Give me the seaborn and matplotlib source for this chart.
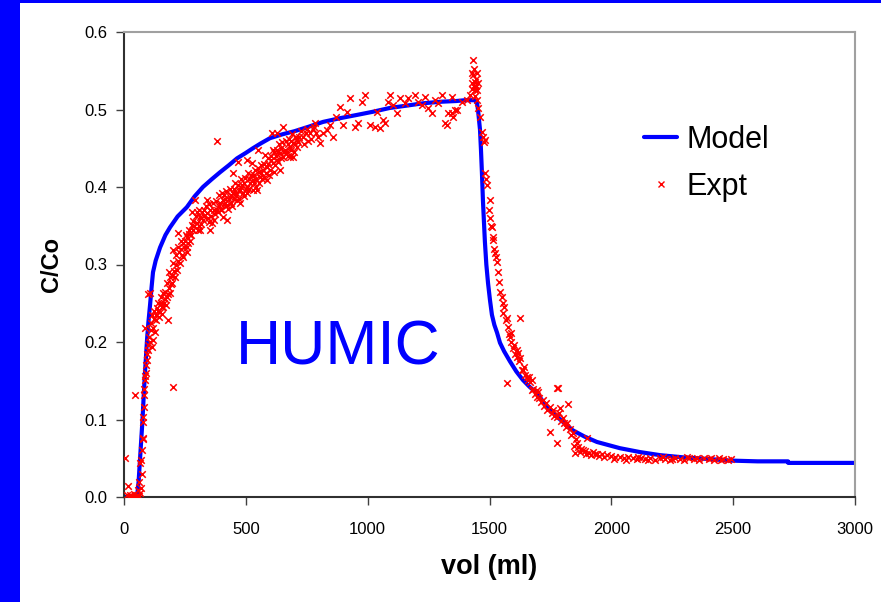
import matplotlib
matplotlib.use('Agg')
import matplotlib.pyplot as plt
from matplotlib.lines import Line2D
from matplotlib.patches import Rectangle
import seaborn as sns
import pandas as pd

# Модельная кривая (объём, мл -> C/Co)
model_vol = [0, 30, 50, 55, 60, 64, 68, 72, 76, 80, 85, 90, 95, 100, 107, 113, 119,
             130, 148, 170, 189, 220, 258, 290, 324, 360, 394, 430, 464, 500, 529,
             560, 599, 650, 700, 760, 817, 890, 956, 1020, 1091, 1160, 1227, 1300,
             1366, 1400, 1440, 1449, 1453, 1461, 1465, 1469, 1473, 1481, 1487, 1494,
             1502, 1510, 1520, 1531, 1543, 1560, 1584, 1610, 1637, 1665, 1695, 1736,
             1790, 1842, 1890, 1941, 2035, 2117, 2200, 2300, 2400, 2487, 2600, 2725,
             2726, 2850, 3000]
model_c = [0.0, 0.0, 0.0, 0.005, 0.02, 0.04, 0.06, 0.08, 0.10, 0.125, 0.155, 0.18,
           0.205, 0.225, 0.248, 0.27, 0.29, 0.305, 0.322, 0.338, 0.348, 0.362, 0.374,
           0.388, 0.40, 0.41, 0.419, 0.428, 0.437, 0.444, 0.45, 0.456, 0.463, 0.468,
           0.472, 0.478, 0.484, 0.489, 0.493, 0.497, 0.502, 0.505, 0.508, 0.510,
           0.511, 0.512, 0.512, 0.508, 0.499, 0.474, 0.448, 0.418, 0.383, 0.33,
           0.30, 0.276, 0.254, 0.235, 0.222, 0.212, 0.199, 0.188, 0.175, 0.162,
           0.151, 0.142, 0.134, 0.116, 0.10, 0.086, 0.078, 0.071, 0.063, 0.058,
           0.054, 0.051, 0.049, 0.047, 0.046, 0.046, 0.044, 0.044, 0.044]

# Экспериментальные точки по участкам
expt_start = [(5, 0.050), (12, 0.003), (16, 0.014), (20, 0.0), (25, 0.003), (30, 0.001),
              (37, 0.0), (42, 0.004), (45, 0.132), (48, 0.0), (53, 0.003), (57, 0.009),
              (60, 0.001), (62, 0.02), (64, 0.005), (66, 0.044), (68, 0.012), (70, 0.048),
              (72, 0.03)]
expt_rise = [(74, 0.061), (76, 0.075), (78, 0.076), (78, 0.103), (80, 0.097), (82, 0.116),
             (82, 0.132), (84, 0.14), (86, 0.151), (88, 0.156), (90, 0.160), (92, 0.17),
             (94, 0.177), (86, 0.218), (96, 0.185), (98, 0.190), (98, 0.262), (100, 0.196),
             (103, 0.207), (105, 0.20), (107, 0.263), (110, 0.215), (115, 0.194),
             (119, 0.218), (119, 0.203), (122, 0.23), (127, 0.213), (130, 0.235),
             (135, 0.244), (140, 0.24), (148, 0.239), (150, 0.25), (155, 0.245),
             (160, 0.245), (160, 0.263), (165, 0.25), (170, 0.255), (176, 0.258),
             (176, 0.276), (181, 0.228), (185, 0.27), (189, 0.263), (189, 0.284),
             (195, 0.285), (197, 0.276), (201, 0.142), (201, 0.302), (201, 0.319),
             (209, 0.284), (212, 0.30), (217, 0.293), (222, 0.323), (222, 0.341),
             (230, 0.302), (235, 0.32), (242, 0.310), (242, 0.328), (250, 0.33),
             (258, 0.316), (258, 0.323), (258, 0.335), (265, 0.34), (272, 0.33),
             (279, 0.351), (279, 0.368), (285, 0.345), (291, 0.383), (300, 0.354),
             (300, 0.368), (306, 0.35), (312, 0.361), (312, 0.345), (318, 0.36),
             (324, 0.357), (330, 0.37), (341, 0.366), (341, 0.383), (347, 0.355),
             (353, 0.370), (353, 0.345), (361, 0.354), (368, 0.37), (375, 0.365),
             (382, 0.370), (382, 0.459), (388, 0.375), (394, 0.379), (400, 0.37),
             (406, 0.383), (406, 0.361), (412, 0.39), (418, 0.375), (423, 0.377),
             (423, 0.357), (430, 0.385), (435, 0.387), (441, 0.38), (447, 0.392),
             (447, 0.418), (452, 0.385), (458, 0.39), (464, 0.383), (468, 0.432),
             (470, 0.395), (476, 0.396), (476, 0.379), (482, 0.40), (488, 0.392),
             (494, 0.405), (500, 0.398), (505, 0.40), (505, 0.435), (511, 0.41),
             (517, 0.405), (525, 0.431), (529, 0.409), (529, 0.396), (535, 0.415),
             (540, 0.40), (546, 0.396), (550, 0.448), (552, 0.42), (558, 0.413),
             (564, 0.418), (570, 0.422), (576, 0.412), (579, 0.441), (587, 0.426),
             (587, 0.409), (593, 0.43), (599, 0.422), (605, 0.435), (607, 0.470),
             (611, 0.431), (611, 0.448), (617, 0.42), (622, 0.44), (628, 0.435),
             (628, 0.470), (634, 0.445), (640, 0.444), (640, 0.422), (646, 0.45),
             (652, 0.439), (652, 0.477), (660, 0.448), (669, 0.445), (675, 0.455),
             (681, 0.452), (681, 0.439), (687, 0.46), (693, 0.457), (693, 0.439),
             (700, 0.455), (710, 0.461), (710, 0.452), (720, 0.465), (734, 0.465),
             (745, 0.47), (755, 0.46), (763, 0.470), (775, 0.475), (784, 0.483),
             (790, 0.47)]
# плотное облако в полосе подъёма
expt_band = [(110, 0.225), (114, 0.235), (124, 0.24), (132, 0.228), (138, 0.25),
             (144, 0.232), (152, 0.258), (158, 0.236), (168, 0.265), (172, 0.248),
             (180, 0.262), (186, 0.29), (192, 0.275), (205, 0.292), (214, 0.312),
             (220, 0.305), (226, 0.316), (232, 0.33), (238, 0.312), (246, 0.322),
             (254, 0.338), (262, 0.328), (268, 0.345), (275, 0.338), (282, 0.356),
             (288, 0.35), (295, 0.362), (303, 0.345), (309, 0.37), (315, 0.352),
             (321, 0.368), (327, 0.362), (335, 0.375), (344, 0.36), (350, 0.378),
             (357, 0.362), (364, 0.38), (371, 0.358), (378, 0.382), (385, 0.368),
             (391, 0.39), (397, 0.372), (403, 0.392), (409, 0.378), (415, 0.385),
             (420, 0.395), (427, 0.372), (433, 0.398), (438, 0.39), (444, 0.376),
             (450, 0.398), (455, 0.405), (461, 0.392), (467, 0.402), (473, 0.385),
             (479, 0.41), (485, 0.402), (491, 0.388), (497, 0.412), (503, 0.392),
             (508, 0.418), (514, 0.398), (520, 0.415), (532, 0.405), (538, 0.422),
             (543, 0.41), (549, 0.425), (555, 0.405), (561, 0.428), (567, 0.41),
             (573, 0.43), (582, 0.418), (590, 0.438), (596, 0.415), (602, 0.44),
             (614, 0.445), (620, 0.428), (626, 0.448), (632, 0.432), (637, 0.455),
             (643, 0.438), (649, 0.458), (655, 0.445), (663, 0.46), (672, 0.44),
             (678, 0.462), (684, 0.448), (690, 0.468), (697, 0.445), (704, 0.465),
             (715, 0.458), (727, 0.472), (738, 0.455), (750, 0.475), (768, 0.462),
             (780, 0.478), (796, 0.465)]
expt_plateau = [(804, 0.457), (815, 0.47), (833, 0.474), (845, 0.48), (858, 0.465),
                (870, 0.49), (886, 0.503), (899, 0.480), (915, 0.497), (927, 0.515),
                (948, 0.477), (960, 0.483), (977, 0.510), (989, 0.519), (1009, 0.480),
                (1030, 0.477), (1038, 0.497), (1050, 0.476), (1063, 0.486), (1071, 0.483),
                (1083, 0.510), (1091, 0.519), (1104, 0.506), (1120, 0.495), (1133, 0.515),
                (1153, 0.508), (1165, 0.515), (1194, 0.519), (1206, 0.510), (1223, 0.506),
                (1235, 0.516), (1247, 0.502), (1264, 0.495), (1276, 0.512), (1288, 0.508),
                (1305, 0.519), (1317, 0.483), (1325, 0.480), (1329, 0.495), (1346, 0.516),
                (1346, 0.495), (1350, 0.490), (1358, 0.499), (1366, 0.499), (1387, 0.510),
                (1407, 0.512), (1420, 0.519), (1428, 0.534), (1428, 0.547), (1432, 0.564),
                (1436, 0.53), (1440, 0.535), (1440, 0.525), (1444, 0.54), (1449, 0.547),
                (1449, 0.525), (1449, 0.512), (1453, 0.534), (1453, 0.502), (1434, 0.545),
                (1438, 0.552), (1446, 0.53), (1430, 0.526), (1442, 0.518)]
expt_fall = [(1461, 0.490), (1469, 0.471), (1473, 0.465), (1477, 0.458), (1481, 0.461),
             (1481, 0.418), (1485, 0.41), (1490, 0.403), (1498, 0.370), (1502, 0.383),
             (1502, 0.360), (1506, 0.35), (1510, 0.348), (1514, 0.335), (1514, 0.332),
             (1518, 0.32), (1522, 0.315), (1527, 0.31), (1531, 0.303), (1535, 0.290),
             (1539, 0.277), (1545, 0.265), (1551, 0.258), (1555, 0.250), (1555, 0.237),
             (1560, 0.245), (1566, 0.228), (1572, 0.231), (1572, 0.147), (1576, 0.219),
             (1580, 0.21), (1584, 0.206), (1590, 0.20), (1596, 0.192), (1605, 0.185),
             (1613, 0.181), (1613, 0.190), (1620, 0.175), (1625, 0.179), (1625, 0.231),
             (1633, 0.164), (1637, 0.164), (1645, 0.158), (1652, 0.155), (1658, 0.151),
             (1665, 0.148), (1674, 0.138), (1674, 0.151), (1680, 0.14), (1687, 0.133),
             (1695, 0.129), (1695, 0.138), (1705, 0.128), (1712, 0.122), (1719, 0.125),
             (1725, 0.118), (1735, 0.112), (1748, 0.116), (1748, 0.084), (1755, 0.108),
             (1765, 0.105), (1777, 0.141), (1777, 0.103), (1777, 0.070), (1781, 0.141),
             (1789, 0.115), (1795, 0.098), (1805, 0.095), (1818, 0.095), (1822, 0.120),
             (1830, 0.088), (1842, 0.083), (1851, 0.057), (1855, 0.075), (1859, 0.070),
             (1865, 0.065), (1875, 0.062), (1883, 0.061), (1890, 0.059), (1900, 0.076),
             (1910, 0.057), (1924, 0.058), (1940, 0.056), (1960, 0.055), (1982, 0.054),
             (1588, 0.212), (1600, 0.196), (1617, 0.186), (1642, 0.168), (1662, 0.155),
             (1700, 0.135), (1730, 0.121), (1760, 0.112), (1785, 0.108), (1800, 0.102),
             (1812, 0.09), (1836, 0.08), (1848, 0.066), (1870, 0.058), (1895, 0.056),
             (1915, 0.054), (1932, 0.055), (1950, 0.053), (1970, 0.052)]
expt_tail = [(2000, 0.053), (2015, 0.051), (2035, 0.052), (2050, 0.050), (2070, 0.051),
             (2089, 0.050), (2105, 0.049), (2120, 0.050), (2140, 0.049), (2160, 0.050),
             (2180, 0.048), (2200, 0.050), (2220, 0.049), (2240, 0.048), (2260, 0.050),
             (2280, 0.049), (2300, 0.048), (2320, 0.050), (2340, 0.049), (2360, 0.048),
             (2380, 0.050), (2400, 0.049), (2420, 0.048), (2440, 0.050), (2460, 0.049),
             (2480, 0.048), (2010, 0.049), (2060, 0.048), (2110, 0.051), (2150, 0.048),
             (2210, 0.051), (2250, 0.049), (2310, 0.051), (2350, 0.050), (2410, 0.050),
             (2450, 0.048), (2490, 0.049)]

x_ticks = [0, 500, 1000, 1500, 2000, 2500, 3000]
y_ticks = [0.0, 0.1, 0.2, 0.3, 0.4, 0.5, 0.6]

sns.set_style('white')
plt.rcParams['font.family'] = ['Liberation Sans', 'DejaVu Sans']
plt.rcParams['text.color'] = 'black'
plt.rcParams['axes.labelcolor'] = 'black'

df_model = pd.DataFrame({'vol': model_vol, 'c': model_c})
df_expt = pd.DataFrame(expt_start + expt_rise + expt_band + expt_plateau + expt_fall
                       + expt_tail, columns=['vol', 'c'])

fig = plt.figure(figsize=(8.81, 6.02), dpi=100, facecolor='white')
# синяя рамка слева и сверху
fig.patches.append(Rectangle((0, 0), 20 / 881, 1, transform=fig.transFigure,
                             facecolor='#0000ff', edgecolor='none'))
fig.patches.append(Rectangle((0, 1 - 3 / 602), 1, 3 / 602, transform=fig.transFigure,
                             facecolor='#0000ff', edgecolor='none'))
ax = fig.add_axes([124 / 881, 1 - 497 / 602, 731 / 881, 465 / 602])
ax.set_facecolor('white')

sns.lineplot(data=df_model, x='vol', y='c', sort=False, color='#0000ff',
             linewidth=3, ax=ax, zorder=2)
sns.scatterplot(data=df_expt, x='vol', y='c', marker='x', color='#ff0000',
                s=22, linewidth=1.1, ax=ax, zorder=3)

ax.set_xlim(0, 3000)
ax.set_ylim(0, 0.6)
ax.set_xticks(x_ticks)
ax.set_yticks(y_ticks)
ax.set_yticklabels([f'{v:.1f}' for v in y_ticks])
ax.tick_params(axis='both', direction='out', length=6, width=1, color='#404040',
               labelsize=12, labelcolor='black')
ax.tick_params(axis='y', pad=6)
ax.tick_params(axis='x', pad=12)
ax.tick_params(left=True, bottom=True)

for side in ['left', 'bottom']:
    ax.spines[side].set_color('#303030')
    ax.spines[side].set_linewidth(1.5)
for side in ['top', 'right']:
    ax.spines[side].set_color('#a0a0a0')
    ax.spines[side].set_linewidth(1.5)

ax.set_xlabel('vol (ml)', fontsize=19.5, fontweight='bold', labelpad=12)
ax.set_ylabel('C/Co', fontsize=17, fontweight='bold', labelpad=15)

ax.text(0.153, 0.284, 'HUMIC', transform=ax.transAxes, fontsize=45,
        color='#0000ff', va='baseline', ha='left')

handles = [Line2D([], [], color='#0000ff', linewidth=3),
           Line2D([], [], color='#ff0000', marker='x', linestyle='none',
                  markersize=4, markeredgewidth=1)]
ax.legend(handles, ['Model', 'Expt'], loc='upper left', bbox_to_anchor=(0.711, 0.80),
          frameon=False, fontsize=22, handlelength=1.1, handletextpad=0.3,
          labelspacing=0.55, borderpad=0, borderaxespad=0, labelcolor='black')

fig.savefig('out.png', dpi=100)
